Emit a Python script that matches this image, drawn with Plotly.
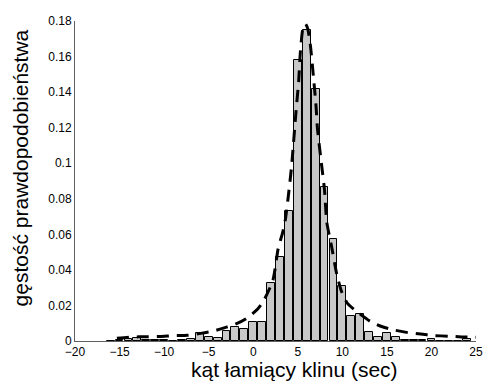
import plotly.graph_objects as go

# histogram bins (centres, width 1) and their densities
bin_centers = list(range(-16, 25))
bin_density = [
    0.0002, 0.0003, 0.0012, 0.0018, 0.0003, 0.0005, 0.0004, 0.0002, 0.0006,
    0.0011, 0.0043, 0.0020, 0.0015, 0.0056, 0.0080, 0.0066, 0.0109, 0.0109,
    0.0324, 0.0474, 0.0730, 0.1580, 0.1750, 0.1415, 0.0864, 0.0572, 0.0309,
    0.0140, 0.0150, 0.0052, 0.0024, 0.0043, 0.0020, 0.0003, 0.0003, 0.0003,
    0.0010, 0.0002, 0.0002, 0.0002, 0.0010,
]

# fitted density curve
fit_x = [-15.3, -13.7, -12.0, -10.5, -8.9, -7.4, -5.9, -4.45, -3.0, -2.0,
         -0.8, 0.5, 1.1, 2.2, 2.8, 3.3, 3.6, 3.95, 4.3, 4.8, 5.1, 5.3, 5.55,
         5.85, 6.1, 6.4, 6.75, 7.05, 7.2, 7.6, 8.0, 8.25, 8.8, 9.4, 9.9,
         10.6, 11.9, 13.15, 14.5, 15.8, 17.35, 18.8, 20.2, 21.9, 23.4, 25.0]
fit_y = [0.0015, 0.0022, 0.0024, 0.0025, 0.0030, 0.0032, 0.0043, 0.0056,
         0.0078, 0.0095, 0.0125, 0.0180, 0.0220, 0.0340, 0.0520, 0.0610,
         0.0680, 0.0820, 0.0980, 0.1290, 0.1460, 0.1630, 0.1750, 0.1785,
         0.1760, 0.1670, 0.1490, 0.1320, 0.1200, 0.1020, 0.0850, 0.0670,
         0.0530, 0.0370, 0.0280, 0.0210, 0.0155, 0.0110, 0.0080, 0.0062,
         0.0047, 0.0039, 0.0031, 0.0027, 0.0023, 0.0021]

x_ticks = [-20, -15, -10, -5, 0, 5, 10, 15, 20, 25]
y_ticks = [0, 0.02, 0.04, 0.06, 0.08, 0.1, 0.12, 0.14, 0.16, 0.18]
y_tick_text = ["0", "0.02", "0.04", "0.06", "0.08", "0.1", "0.12", "0.14", "0.16", "0.18"]

FONT = "Liberation Sans, Arial, sans-serif"

fig = go.Figure()
fig.add_trace(go.Bar(
    x=bin_centers, y=bin_density, width=0.88,
    marker=dict(color="#c8c8c8", line=dict(color="#000000", width=1)),
    showlegend=False,
))
fig.add_trace(go.Scatter(
    x=fit_x, y=fit_y, mode="lines",
    line=dict(color="#000000", width=3, dash="12px,8px", shape="spline", smoothing=0.6),
    showlegend=False,
))

fig.update_layout(
    width=490, height=381,
    margin=dict(l=75, r=7, t=21, b=40),
    paper_bgcolor="white", plot_bgcolor="white",
    font=dict(family=FONT, size=12, color="#000000"),
    bargap=0,
    xaxis=dict(
        range=[-20, 25], tickvals=x_ticks, showgrid=False, zeroline=False,
        showline=True, linecolor="#606060", linewidth=1, ticks="",
        tickfont=dict(size=12),
    ),
    yaxis=dict(
        range=[0, 0.18], tickvals=y_ticks, ticktext=y_tick_text,
        showgrid=False, zeroline=False, showline=True, linecolor="#606060",
        linewidth=1, ticks="", tickfont=dict(size=12),
    ),
    annotations=[
        dict(text="kąt łamiący klinu (sec)", xref="paper", yref="paper",
             x=0.548, y=-0.09, xanchor="center", yanchor="middle",
             showarrow=False, font=dict(size=21, family=FONT)),
        dict(text="gęstość prawdopodobieństwa", xref="paper", yref="paper",
             x=-0.135, y=0.542, xanchor="center", yanchor="middle",
             textangle=-90, showarrow=False, font=dict(size=21, family=FONT)),
    ],
)

fig.write_html("out.html")
